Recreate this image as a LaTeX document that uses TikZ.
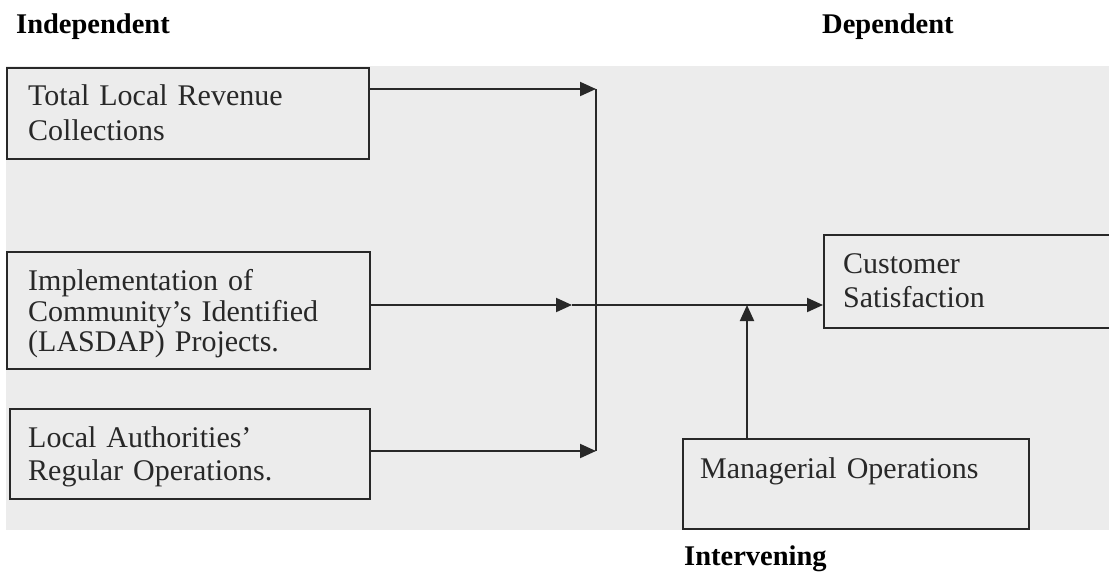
\documentclass[tikz,border=0pt]{standalone}
\usepackage{fontspec}
\setmainfont{Liberation Serif}
\usetikzlibrary{arrows.meta,calc}
\definecolor{paper}{RGB}{236,236,236}
\definecolor{ink}{RGB}{40,40,40}
\begin{document}
\begin{tikzpicture}[x=1pt,y=-1pt,
  box/.style={draw=ink, line width=2pt, rectangle, inner sep=0pt, anchor=north west},
  txt/.style={font=\fontsize{30}{32}\selectfont, text=ink, inner sep=0pt, anchor=base west, align=left},
  head/.style={font=\bfseries\fontsize{28.5}{30}\selectfont, text=black, inner sep=0pt, anchor=base west},
  conn/.style={draw=ink, line width=2pt},
  arr/.style={conn, -{Triangle[length=16pt,width=14pt]}}]
\useasboundingbox (0,0) rectangle (1109,571);
\fill[paper] (6,66) rectangle (1109,530);
% headers
\node[head] (h1) at (16,33) {Independent};
\node[head] (h2) at (822,33) {Dependent};
\node[head] (h3) at (684,565) {Intervening};
% boxes
\node[box, minimum width=362pt, minimum height=91pt] (b1) at (6,67) {};
\node[box, minimum width=363pt, minimum height=117pt] (b2) at (6,251) {};
\node[box, minimum width=360pt, minimum height=90pt] (b3) at (9,408) {};
\node[box, minimum width=290pt, minimum height=93pt] (cs) at (823,234) {};
\node[box, minimum width=346pt, minimum height=90pt] (mo) at (682,438) {};
% texts
\node[txt, text width=330pt] (t1) at (28,105) {Total Local Revenue\\[3pt]Collections};
\node[txt, text width=330pt] (t2) at (28,290) {Implementation of\\[-1pt]Community’s Identified\\[-2pt](LASDAP) Projects.};
\node[txt, text width=330pt] (t3) at (28,447) {Local Authorities’\\[1pt]Regular Operations.};
\node[txt, text width=250pt] (t4) at (843,273) {Customer\\[2pt]Satisfaction};
\node[txt, text width=310pt] (t5) at (700,478) {Managerial Operations};
% junctions
\coordinate (j1) at (596,89);
\coordinate (j2) at (596,305);
\coordinate (j3) at (596,451);
\coordinate (m2) at (572,305);
\coordinate (up) at (747,305);
% connectors
\draw[arr] (j1 -| b1.east) -- (j1);
\draw[arr] (j3 -| b3.east) -- (j3);
\draw[conn] (j1) -- (j3);
\draw[arr] (j2 -| b2.east) -- (m2);
\draw[arr] (m2) -- (j2 -| cs.west);
\draw[arr] (up |- mo.north) -- (up);
\end{tikzpicture}
\end{document}
